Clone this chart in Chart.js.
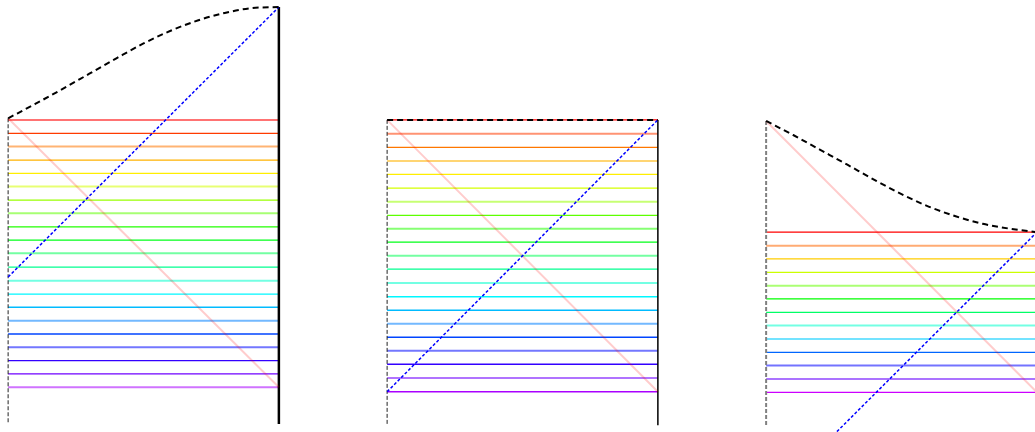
<!DOCTYPE html>
<html>
<head>
<meta charset="utf-8">
<script src="https://cdn.jsdelivr.net/npm/chart.js@4.4.1/dist/chart.umd.min.js"></script>
<style>
  html, body { margin: 0; padding: 0; background: #fff; }
  body { width: 1035px; height: 432px; overflow: hidden; position: relative; }
  canvas { position: absolute; top: 0; }
</style>
</head>
<body>
<canvas id="panel1" width="287" height="432" style="left:0px"></canvas>
<canvas id="panel2" width="287" height="432" style="left:379px"></canvas>
<canvas id="panel3" width="287" height="432" style="left:758px"></canvas>
<script>
// x along a panel: 0 = left edge, 10 = right edge
const curveX = [0, 1, 2, 3, 4, 5, 6, 7, 8, 9, 10];

// top dashed curve of each panel
const curve1 = [11.62, 12.15, 12.70, 13.27, 13.84, 14.39, 14.86, 15.24, 15.52, 15.70, 15.74];
const curve2 = [11.56, 11.56, 11.56, 11.56, 11.56, 11.56, 11.56, 11.56, 11.56, 11.56, 11.56];
const curve3 = [11.52, 11.00, 10.45, 9.90, 9.34, 8.81, 8.35, 7.99, 7.71, 7.53, 7.40];

// horizontal band levels
const levels1 = [11.56, 11.06, 10.57, 10.07, 9.58, 9.09, 8.59, 8.10, 7.60, 7.11, 6.62,
                 6.11, 5.60, 5.11, 4.62, 4.12, 3.63, 3.14, 2.64, 2.15, 1.66];
const levels2 = [11.56, 11.05, 10.54, 10.04, 9.54, 9.03, 8.53, 8.02, 7.53, 7.03, 6.53,
                 6.03, 5.52, 5.01, 4.51, 4.01, 3.51, 3.01, 2.51, 2.00, 1.49];
const levels3 = [7.40, 6.90, 6.41, 5.91, 5.42, 4.93, 4.43, 3.94, 3.44, 2.95, 2.46, 1.96, 1.47];

// where the blue diagonal starts on the left edge, and the bottom of the side rules
const blueStart = [5.74, 1.49, -2.6];
const ruleBottom = [0.3, 0.25, 0.2];

// styling: which band lines are drawn faded/wide
const faded1 = [1,0,1,0,0,1,0,1,0,0,1,0,1,0,0,1,0,1,0,0,1];
const faded2 = [0,1,0,1,0,0,1,0,1,0,1,0,1,0,0,1,0,1,0,1,0];
const faded3 = [0,1,0,0,1,0,0,1,1,0,1,1,0];
const hueStep = [14, 14, 24];
const rightWidth = [2.5, 1.5, 1.5];
const leftStyle = [
    { color: '#222', width: 1 },
    { color: '#222', width: 1 },
    { color: '#808080', width: 2 }
];

const panels = [
    { id: 'panel1', curve: curve1, levels: levels1, faded: faded1 },
    { id: 'panel2', curve: curve2, levels: levels2, faded: faded2 },
    { id: 'panel3', curve: curve3, levels: levels3, faded: faded3 }
];

function seg(points, style) {
    return Object.assign({
        data: points,
        showLine: true,
        pointRadius: 0,
        pointHoverRadius: 0,
        fill: false,
        tension: 0
    }, style);
}

function buildDatasets(p, i) {
    const top0 = p.curve[0];
    const topEnd = p.curve[p.curve.length - 1];
    const bottom = p.levels[p.levels.length - 1];
    const sets = [];

    // first in list = drawn on top
    sets.push(seg(curveX.map((x, k) => ({ x: x, y: p.curve[k] })), {
        borderColor: '#000', borderWidth: 2, borderDash: [6, 4],
        cubicInterpolationMode: 'monotone'
    }));
    sets.push(seg([{ x: 0, y: blueStart[i] }, { x: 10, y: topEnd }], {
        borderColor: '#0000ff', borderWidth: 1.5, borderDash: [3, 2]
    }));
    sets.push(seg([{ x: 0, y: top0 }, { x: 10, y: bottom }], {
        borderColor: 'rgba(255, 0, 0, 0.2)', borderWidth: 2
    }));
    sets.push(seg([{ x: 10, y: topEnd }, { x: 10, y: ruleBottom[i] }], {
        borderColor: '#000', borderWidth: rightWidth[i]
    }));
    sets.push(seg([{ x: 0, y: top0 }, { x: 0, y: ruleBottom[i] }], {
        borderColor: leftStyle[i].color, borderWidth: leftStyle[i].width, borderDash: [4, 2]
    }));

    p.levels.forEach((lv, k) => {
        const h = k * hueStep[i];
        const soft = p.faded[k] === 1;
        sets.push(seg([{ x: 0, y: lv }, { x: 10, y: lv }], {
            borderColor: soft ? `hsla(${h}, 100%, 50%, 0.55)` : `hsl(${h}, 100%, 50%)`,
            borderWidth: soft ? 2 : 1.3
        }));
    });
    return sets;
}

panels.forEach((p, i) => {
    const ctx = document.getElementById(p.id).getContext('2d');
    new Chart(ctx, {
        type: 'scatter',
        data: { datasets: buildDatasets(p, i) },
        options: {
            responsive: false,
            animation: false,
            devicePixelRatio: 1,
            layout: { padding: 0 },
            scales: {
                x: { type: 'linear', min: -0.3, max: 10.3, display: false },
                y: { type: 'linear', min: 0, max: 16, display: false }
            },
            plugins: {
                legend: { display: false },
                tooltip: { enabled: false }
            },
            events: []
        }
    });
});
</script>
</body>
</html>
